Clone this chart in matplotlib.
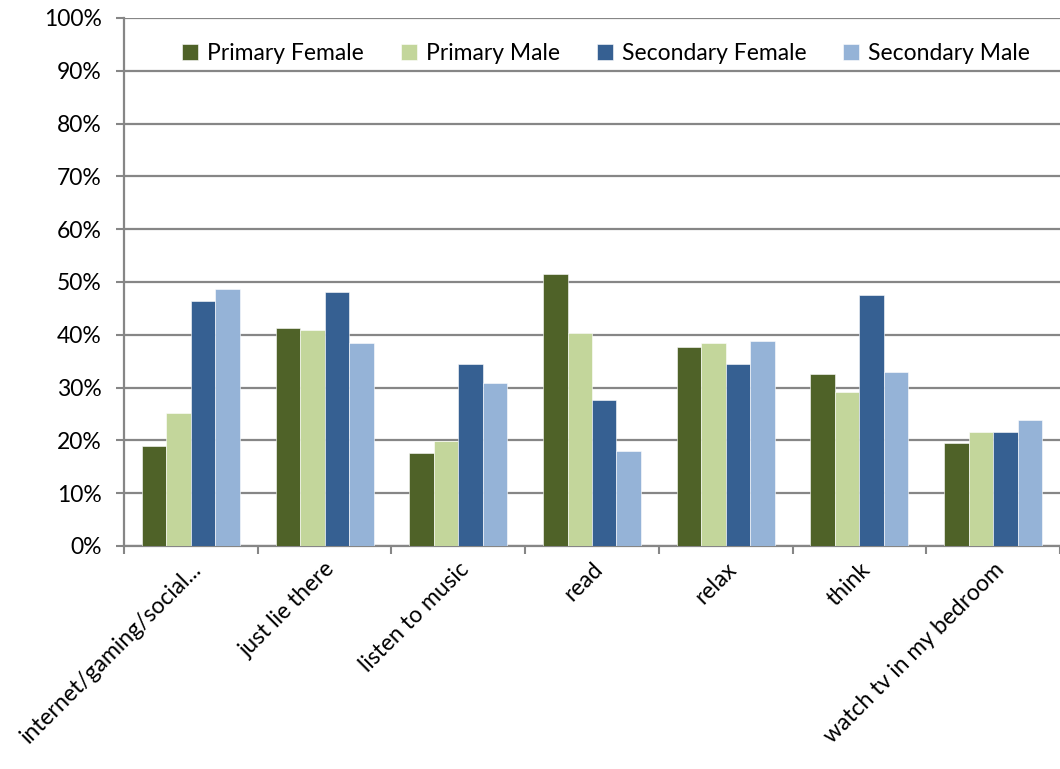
import numpy as np
import matplotlib
matplotlib.use("Agg")
import matplotlib.pyplot as plt

plt.rcParams["font.family"] = ["Lato", "DejaVu Sans"]

# Data (percent)
categories = [
    "internet/gaming/social...",
    "just lie there",
    "listen to music",
    "read",
    "relax",
    "think",
    "watch tv in my bedroom",
]
primary_female = [19.0, 41.3, 17.6, 51.5, 37.6, 32.5, 19.5]
primary_male = [25.2, 41.0, 19.8, 40.3, 38.4, 29.1, 21.5]
secondary_female = [46.4, 48.1, 34.4, 27.7, 34.5, 47.5, 21.6]
secondary_male = [48.7, 38.4, 30.8, 17.9, 38.8, 32.9, 23.9]

series = [
    ("Primary Female", primary_female, "#4F6228"),
    ("Primary Male", primary_male, "#C3D69B"),
    ("Secondary Female", secondary_female, "#366092"),
    ("Secondary Male", secondary_male, "#95B3D7"),
]

fig = plt.figure(figsize=(10.6, 7.69), dpi=100)
ax = fig.add_axes([0.117, 0.29, 0.883, 0.6866])

index = np.arange(len(categories))
bar_width = 0.183
grid_color = "#868686"
fs = 16.5

for i, (name, values, color) in enumerate(series):
    ax.bar(index + (i - 1.5) * bar_width, values, bar_width,
           label=name, color=color, edgecolor="white", linewidth=0.4, zorder=3)

ax.set_xlim(-0.5, len(categories) - 0.5)
ax.set_ylim(0, 100)
ax.set_yticks(np.arange(0, 101, 10))
ax.set_yticklabels([f"{v}%" for v in range(0, 101, 10)], fontsize=fs)
ax.yaxis.grid(True, color=grid_color, linewidth=1.6, zorder=0)

# category boundary ticks on the x axis
ax.set_xticks(np.arange(len(categories) + 1) - 0.5)
ax.set_xticklabels([])
ax.set_xticks(index, minor=True)
ax.set_xticklabels(categories, minor=True, rotation=45, ha="right",
                   va="top", rotation_mode="anchor", fontsize=fs)
ax.tick_params(axis="x", which="minor", length=0, pad=9)
ax.tick_params(axis="x", which="major", length=6, width=1.5, color=grid_color)
ax.tick_params(axis="y", length=6, width=1.5, color=grid_color, pad=10)

for side in ["top", "right"]:
    ax.spines[side].set_visible(False)
for side in ["left", "bottom"]:
    ax.spines[side].set_color(grid_color)
    ax.spines[side].set_linewidth(1.6)

ax.legend(loc="center", bbox_to_anchor=(0.515, 0.932), ncol=4, frameon=False,
          fontsize=fs, handlelength=0.7, handleheight=0.7,
          handletextpad=0.4, columnspacing=1.6)

fig.savefig("out.png", dpi=100)
